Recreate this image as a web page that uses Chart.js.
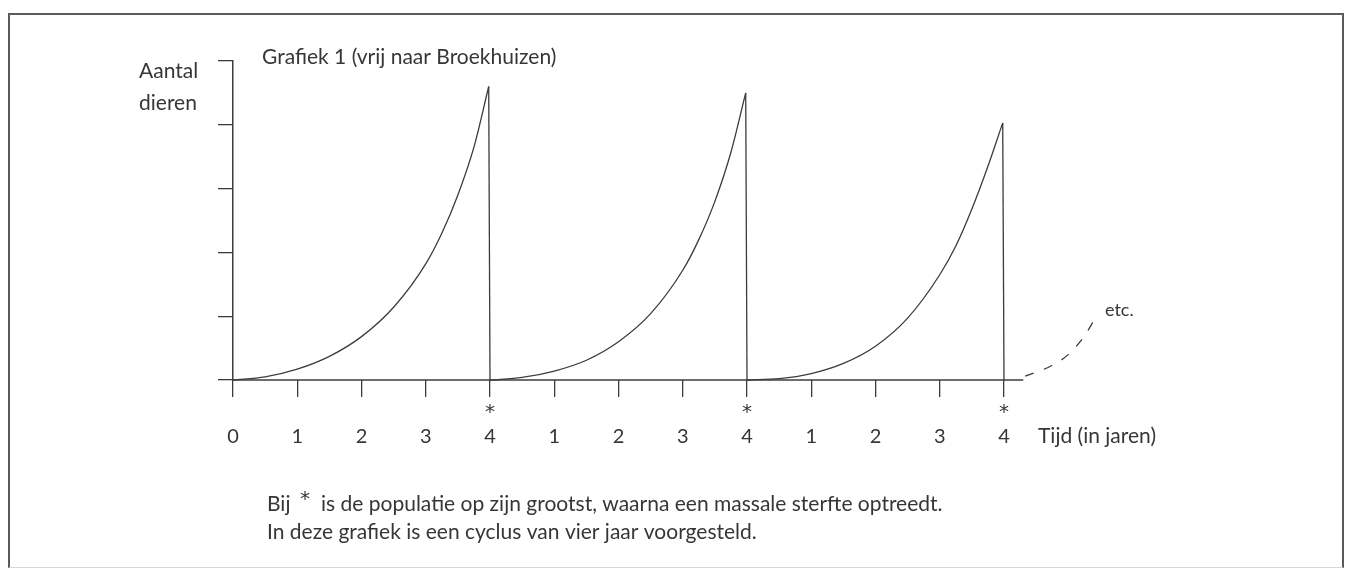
<!DOCTYPE html>
<html>
<head>
<meta charset="utf-8">
<script src="https://cdn.jsdelivr.net/npm/chart.js@4.4.0/dist/chart.umd.min.js"></script>
<style>
html, body { margin: 0; padding: 0; background: #fff; }
#wrap { position: relative; width: 1350px; height: 571px; }
#frame { position: absolute; left: 8px; top: 13px; width: 1332px; height: 552px;
	border: 2px solid #5a5a5a; border-bottom: 1px solid #d6d6d6; }
canvas { position: absolute; left: 0; top: 0; }
</style>
</head>
<body>
<div id="wrap">
	<div id="frame"></div>
	<canvas id="chart-area" width="1350" height="571"></canvas>
</div>
<script>
// years within one cycle, and the number of animals
var cycleYears = [0, 0.5, 1, 1.5, 2, 2.5, 3, 3.25, 3.5, 3.75, 3.98];
var cycle1 = [0, 0.05, 0.17, 0.37, 0.68, 1.14, 1.82, 2.3, 2.9, 3.65, 4.6];
var cycle2 = [0, 0.04, 0.14, 0.31, 0.60, 1.04, 1.72, 2.2, 2.8, 3.57, 4.5];
var cycle3 = [0, 0.02, 0.10, 0.26, 0.53, 0.97, 1.65, 2.1, 2.68, 3.35, 4.03];
var cycleStarts = [0, 4, 8];
var cycleEnd = 4;

// the dashed "etc." continuation
var etcYears = [12.33, 12.73, 12.99, 13.23, 13.45];
var etcValues = [0.06, 0.22, 0.39, 0.66, 1.02];

var xTickLabels = ['0', '1', '2', '3', '4', '1', '2', '3', '4', '1', '2', '3', '4'];
var peakYears = [4, 8, 12];
var axisEnd = 12.3;

var lineColor = '#3c3c3c';
var textColor = '#363636';
var fontName = 'Lato, "Open Sans", sans-serif';
var starFont = '"DejaVu Sans", sans-serif';

var datasets = [];
[cycle1, cycle2, cycle3].forEach(function (values, i) {
	var start = cycleStarts[i];
	datasets.push({
		data: cycleYears.map(function (t, j) { return { x: start + t, y: values[j] }; }),
		cubicInterpolationMode: 'monotone',
		borderColor: lineColor,
		borderWidth: 1.3
	});
	// the mass die-off: straight drop to zero
	datasets.push({
		data: [
			{ x: start + cycleYears[cycleYears.length - 1], y: values[values.length - 1] },
			{ x: start + cycleEnd, y: 0 }
		],
		tension: 0,
		borderColor: lineColor,
		borderWidth: 1.3
	});
});
// x axis line (stops short of the scale end)
datasets.push({
	data: [{ x: 0, y: 0 }, { x: axisEnd, y: 0 }],
	tension: 0,
	borderColor: lineColor,
	borderWidth: 1.5
});
datasets.push({
	data: etcYears.map(function (t, j) { return { x: t, y: etcValues[j] }; }),
	cubicInterpolationMode: 'monotone',
	borderColor: lineColor,
	borderWidth: 1.3,
	borderDash: [9, 11]
});
datasets.forEach(function (d) { d.clip = false; d.pointRadius = 0; });

var textPlugin = {
	id: 'texts',
	afterDraw: function (chart) {
		var ctx = chart.ctx;
		var xs = chart.scales.x;
		ctx.save();
		ctx.fillStyle = textColor;
		ctx.textBaseline = 'middle';
		ctx.textAlign = 'left';
		ctx.font = '21px ' + fontName;
		ctx.fillText('Grafiek 1 (vrij naar Broekhuizen)', 262, 57);
		ctx.fillText('Aantal', 139, 71);
		ctx.fillText('dieren', 139, 103);
		ctx.fillText('Tijd (in jaren)', 1038, 436);
		ctx.font = '18px ' + fontName;
		ctx.fillText('etc.', 1105, 310);
		ctx.font = '21px ' + fontName;
		ctx.fillText('Bij', 267, 504);
		ctx.fillText('is de populatie op zijn grootst, waarna een massale sterfte optreedt.', 321, 504);
		ctx.fillText('In deze grafiek is een cyclus van vier jaar voorgesteld.', 267, 532);
		// stars: footer and under each peak
		ctx.textAlign = 'center';
		ctx.font = '20px ' + starFont;
		ctx.fillText('*', 305, 500);
		peakYears.forEach(function (v) {
			ctx.fillText('*', xs.getPixelForValue(v), 413);
		});
		ctx.restore();
	}
};

var config = {
	type: 'line',
	data: { datasets: datasets },
	options: {
		responsive: false,
		animation: false,
		layout: { padding: { left: 218, right: 217.5, top: 61, bottom: 111 } },
		plugins: {
			legend: { display: false },
			tooltip: { enabled: false }
		},
		scales: {
			x: {
				type: 'linear',
				min: 0,
				max: 14,
				border: { display: false },
				grid: { drawOnChartArea: false, tickLength: 17, color: lineColor, lineWidth: 1.3 },
				afterBuildTicks: function (scale) {
					scale.ticks = xTickLabels.map(function (l, i) { return { value: i }; });
				},
				afterFit: function (scale) { scale.height = 80; },
				ticks: {
					autoSkip: false,
					maxRotation: 0,
					padding: 28,
					color: textColor,
					font: { family: fontName, size: 20, lineHeight: 1.2 },
					callback: function (value, index) { return xTickLabels[index]; }
				}
			},
			y: {
				min: 0,
				max: 5,
				border: { display: true, color: lineColor, width: 1.5 },
				grid: { drawOnChartArea: false, tickLength: 15, color: lineColor, lineWidth: 1.3 },
				afterFit: function (scale) { scale.width = 15; },
				ticks: { stepSize: 1, display: false }
			}
		}
	},
	plugins: [textPlugin]
};

window.onload = function () {
	var ctx = document.getElementById('chart-area').getContext('2d');
	window.myChart = new Chart(ctx, config);
};
</script>
</body>
</html>
